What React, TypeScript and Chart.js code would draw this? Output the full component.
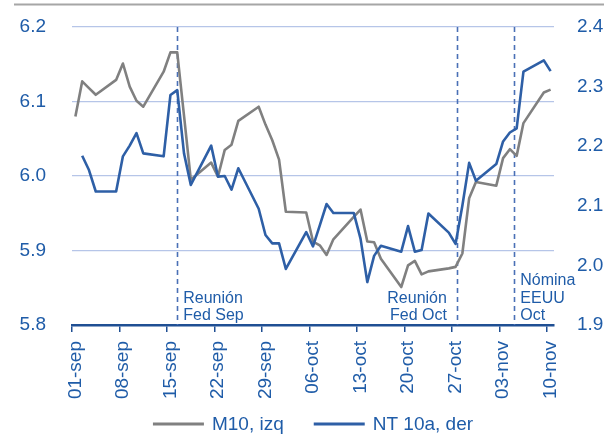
import React, { useEffect, useRef } from 'react';
import { Chart, registerables } from 'chart.js';

Chart.register(...registerables);

// ---- data ----
const dates = [
  '2015-09-01', '2015-09-02', '2015-09-03', '2015-09-04', '2015-09-07', '2015-09-08', '2015-09-09', '2015-09-10', '2015-09-11',
  '2015-09-14', '2015-09-15', '2015-09-16', '2015-09-17', '2015-09-18', '2015-09-21', '2015-09-22', '2015-09-23', '2015-09-24',
  '2015-09-25', '2015-09-28', '2015-09-29', '2015-09-30', '2015-10-01', '2015-10-02', '2015-10-05', '2015-10-06', '2015-10-07',
  '2015-10-08', '2015-10-09', '2015-10-12', '2015-10-13', '2015-10-14', '2015-10-15', '2015-10-16', '2015-10-19', '2015-10-20',
  '2015-10-21', '2015-10-22', '2015-10-23', '2015-10-26', '2015-10-27', '2015-10-28', '2015-10-29', '2015-10-30', '2015-11-02',
  '2015-11-03', '2015-11-04', '2015-11-05', '2015-11-06', '2015-11-09', '2015-11-10',
];

const m10Values = [
  6.080, 6.127, 6.118, 6.109, 6.129, 6.151, 6.120, 6.101, 6.093,
  6.140, 6.166, 6.166, 6.081, 5.995, 6.018, 5.999, 6.035, 6.042,
  6.074, 6.093, 6.069, 6.048, 6.022, 5.952, 5.951, 5.912, 5.907,
  5.894, 5.915, 5.945, 5.955, 5.912, 5.911, 5.889, 5.851, 5.880,
  5.886, 5.868, 5.872, 5.876, 5.878, 5.896, 5.970, 5.992, 5.987,
  6.024, 6.036, 6.027, 6.071, 6.112, 6.116,
];

const nt10Values = [
  null, 2.184, 2.160, 2.124, 2.124, 2.183, 2.201, 2.222, 2.188,
  2.183, 2.286, 2.294, 2.188, 2.135, 2.201, 2.149, 2.150, 2.127,
  2.163, 2.095, 2.051, 2.037, 2.037, 1.994, 2.056, 2.032, 2.067,
  2.103, 2.088, 2.088, 2.045, 1.972, 2.016, 2.033, 2.023, 2.066,
  2.023, 2.026, 2.087, 2.055, 2.036, 2.100, 2.172, 2.142, 2.170,
  2.208, 2.223, 2.230, 2.325, 2.344, 2.326,
];

const tickLabels = ['01-sep', '08-sep', '15-sep', '22-sep', '29-sep', '06-oct', '13-oct', '20-oct', '27-oct', '03-nov', '10-nov'];

const seriesNames = ['M10, izq', 'NT 10a, der'];

// events: day offset from 1 Sep (vertical dashed lines) and their labels
const eventDays = [15, 56.2, 64.65];
const eventLabels = [['Reunión', 'Fed Sep'], ['Reunión', 'Fed Oct'], ['Nómina', 'EEUU', 'Oct']];

// ---- styling ----
const FONT = "'Liberation Sans', Arial, sans-serif";
const TEXT_BLUE = '#1f5ca8';
const GRAY = '#808080';
const BLUE = '#2e5fa6';
const DASH_BLUE = '#4a70b6';
const AXIS_BLUE = '#1f4f93';
const GRID = '#b6c5e8';
const AXIS_FONT = 19;

const START = Date.parse('2015-09-01');
const dayOf = (s: string) => Math.round((Date.parse(s) - START) / 86400000);

const decorPlugin = {
  id: 'decor',
  beforeDatasetsDraw(chart: any) {
    const { ctx, chartArea, scales } = chart;
    ctx.save();
    ctx.strokeStyle = DASH_BLUE;
    ctx.lineWidth = 1.6;
    ctx.setLineDash([5, 4]);
    eventDays.forEach((d) => {
      const x = Math.round(scales.x.getPixelForValue(d)) + 0.5;
      ctx.beginPath();
      ctx.moveTo(x, chartArea.top);
      ctx.lineTo(x, chartArea.bottom);
      ctx.stroke();
    });
    ctx.restore();
  },
  afterDraw(chart: any) {
    const { ctx, chartArea, scales } = chart;
    ctx.save();
    // top rule
    ctx.strokeStyle = '#a6a6a6';
    ctx.lineWidth = 2;
    ctx.beginPath();
    ctx.moveTo(14, 4.5);
    ctx.lineTo(604, 4.5);
    ctx.stroke();

    // event labels
    ctx.fillStyle = TEXT_BLUE;
    ctx.font = `16px ${FONT}`;
    ctx.textBaseline = 'middle';
    const lh = 17.8;
    eventDays.forEach((d, i) => {
      const x = scales.x.getPixelForValue(d);
      const lines = eventLabels[i];
      const bottomY = chartArea.bottom - 9;
      const alignRight = i === 1;
      ctx.textAlign = alignRight ? 'right' : 'left';
      const tx = alignRight ? x - 10 : x + 6;
      lines.forEach((t, j) => {
        const y = bottomY - (lines.length - 1 - j) * lh;
        ctx.fillText(t, tx, y);
      });
    });

    // legend
    ctx.font = `${AXIS_FONT}px ${FONT}`;
    ctx.textAlign = 'left';
    const lineLen = 51;
    const gap = 8;
    const itemGap = 30;
    const colors = [GRAY, BLUE];
    const widths = seriesNames.map((n) => ctx.measureText(n).width);
    const total = widths.reduce((a, w) => a + lineLen + gap + w, 0) + itemGap * (seriesNames.length - 1);
    let x = (chartArea.left + chartArea.right) / 2 - total / 2;
    const ly = 424;
    seriesNames.forEach((n, i) => {
      ctx.strokeStyle = colors[i];
      ctx.lineWidth = 3;
      ctx.beginPath();
      ctx.moveTo(x, ly);
      ctx.lineTo(x + lineLen, ly);
      ctx.stroke();
      ctx.fillStyle = TEXT_BLUE;
      ctx.fillText(n, x + lineLen + gap, ly + 1);
      x += lineLen + gap + widths[i] + itemGap;
    });
    ctx.restore();
  },
};

export default function App() {
  const ref = useRef<HTMLCanvasElement | null>(null);

  useEffect(() => {
    if (!ref.current) return;
    const m10Data = dates.map((d, i) => ({ x: dayOf(d), y: m10Values[i] }));
    const ntData = dates
      .map((d, i) => ({ x: dayOf(d), y: nt10Values[i] }))
      .filter((p) => p.y !== null);

    const chart = new Chart(ref.current, {
      type: 'line',
      data: {
        datasets: [
          {
            label: seriesNames[0],
            data: m10Data as any,
            yAxisID: 'y',
            borderColor: GRAY,
            borderWidth: 2.6,
            pointRadius: 0,
            tension: 0,
            borderJoinStyle: 'round',
            order: 2,
          },
          {
            label: seriesNames[1],
            data: ntData as any,
            yAxisID: 'y1',
            borderColor: BLUE,
            borderWidth: 2.6,
            pointRadius: 0,
            tension: 0,
            borderJoinStyle: 'round',
            order: 1,
          },
        ],
      },
      options: {
        animation: false,
        responsive: true,
        maintainAspectRatio: false,
        layout: { padding: { top: 27, bottom: 26, left: 0, right: 0 } },
        plugins: {
          legend: { display: false },
          tooltip: { enabled: false },
          title: { display: false },
        },
        scales: {
          x: {
            type: 'linear',
            min: -0.5,
            max: 70.5,
            afterBuildTicks: (scale: any) => {
              scale.ticks = tickLabels.map((_, i) => ({ value: -0.5 + 7 * i }));
            },
            afterFit: (scale: any) => {
              scale.height = 85;
              scale.paddingLeft = 0;
              scale.paddingRight = 0;
            },
            ticks: {
              autoSkip: false,
              minRotation: 90,
              maxRotation: 90,
              labelOffset: 3.4,
              padding: 9,
              color: TEXT_BLUE,
              font: { family: FONT, size: AXIS_FONT },
              callback: (_v: any, i: number) => tickLabels[i],
            },
            grid: {
              drawOnChartArea: false,
              drawTicks: true,
              tickLength: 7,
              color: AXIS_BLUE,
              lineWidth: 1.5,
            },
            border: { display: true, color: AXIS_BLUE, width: 2.5 },
          },
          y: {
            type: 'linear',
            position: 'left',
            min: 5.8,
            max: 6.2,
            afterFit: (scale: any) => {
              scale.width = 72;
              scale.paddingTop = 0;
              scale.paddingBottom = 0;
            },
            ticks: {
              stepSize: 0.1,
              padding: 26,
              color: TEXT_BLUE,
              font: { family: FONT, size: AXIS_FONT },
              callback: (v: any) => Number(v).toFixed(1),
            },
            grid: { drawTicks: false, color: GRID, lineWidth: 1.2 },
            border: { display: false },
          },
          y1: {
            type: 'linear',
            position: 'right',
            min: 1.9,
            max: 2.4,
            afterFit: (scale: any) => {
              scale.width = 61;
              scale.paddingTop = 0;
              scale.paddingBottom = 0;
            },
            ticks: {
              stepSize: 0.1,
              padding: 23,
              color: TEXT_BLUE,
              font: { family: FONT, size: AXIS_FONT },
              callback: (v: any) => Number(v).toFixed(1),
            },
            grid: { display: false, drawTicks: false },
            border: { display: false },
          },
        },
      } as any,
      plugins: [decorPlugin],
    });
    return () => chart.destroy();
  }, []);

  return (
    <div style={{ position: 'fixed', left: 0, top: 0, width: 615, height: 436, background: '#fff' }}>
      <canvas ref={ref} />
    </div>
  );
}
